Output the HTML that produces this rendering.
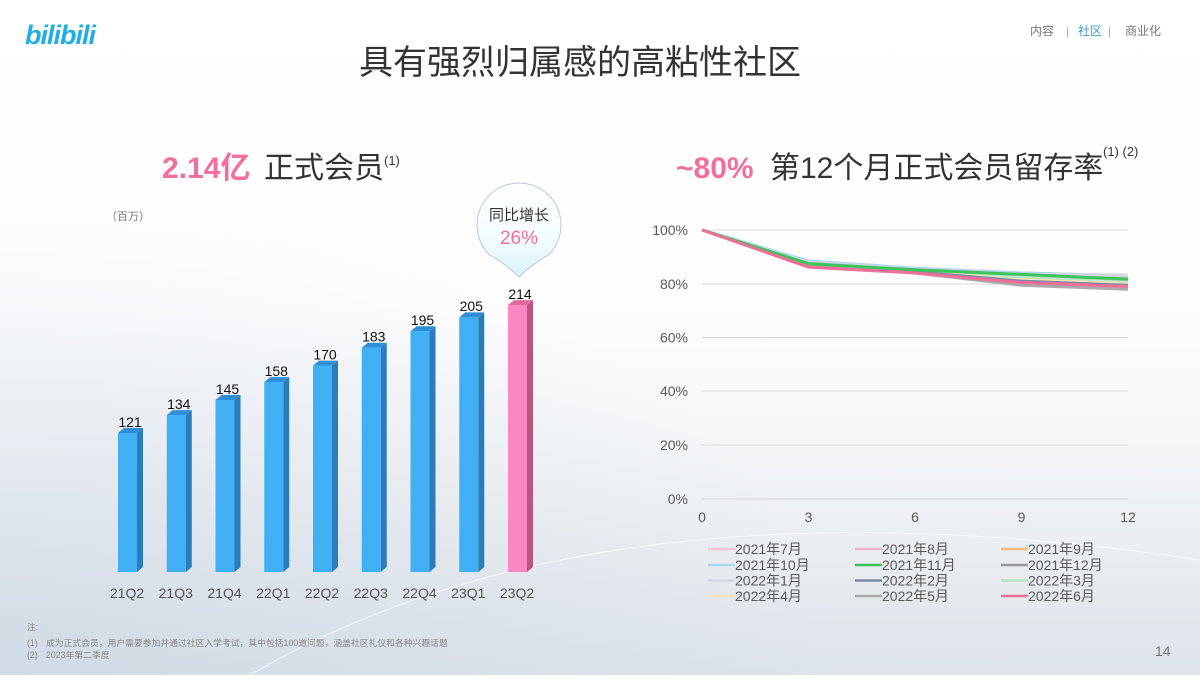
<!DOCTYPE html>
<html><head><meta charset="utf-8">
<style>
html,body{margin:0;padding:0;}
body{width:1200px;height:675px;overflow:hidden;font-family:"Liberation Sans","Noto Sans CJK SC",sans-serif;}
svg text{font-family:"Liberation Sans","Noto Sans CJK SC",sans-serif;}
</style></head>
<body>
<svg width="1200" height="675" viewBox="0 0 1200 675" xmlns="http://www.w3.org/2000/svg">
<defs>
<linearGradient id="bg" x1="0" y1="0" x2="0" y2="1">
<stop offset="0" stop-color="#ffffff"/>
<stop offset="0.45" stop-color="#fdfdfe"/>
<stop offset="0.65" stop-color="#f4f6f8"/>
<stop offset="0.82" stop-color="#eaedf1"/>
<stop offset="1" stop-color="#dde3ea"/>
</linearGradient>
<radialGradient id="bgl" cx="0" cy="1" r="0.7" gradientUnits="objectBoundingBox">
<stop offset="0" stop-color="#c9d5e2" stop-opacity="0.6"/>
<stop offset="1" stop-color="#c9d5e2" stop-opacity="0"/>
</radialGradient>
<linearGradient id="bub" x1="0" y1="0" x2="0" y2="1">
<stop offset="0" stop-color="#ffffff"/>
<stop offset="0.6" stop-color="#f3fbfe"/>
<stop offset="1" stop-color="#d9f3fb"/>
</linearGradient>
</defs>
<rect width="1200" height="675" fill="url(#bg)"/>
<rect width="1200" height="675" fill="url(#bgl)"/>
<path d="M 250 675 Q 600 470 1200 560" fill="none" stroke="#ffffff" stroke-width="1.2" opacity="0.6"/>

<!-- logo -->
<text x="25" y="44" font-size="27" font-weight="bold" fill="#23ade5" font-style="italic" letter-spacing="-1">bilibili</text>

<!-- nav -->
<text x="1030" y="35" font-size="12" fill="#777">内容</text>
<text x="1066" y="35" font-size="11" fill="#aaa">|</text>
<text x="1078" y="35" font-size="12" fill="#3a9fd0">社区</text>
<text x="1108" y="35" font-size="11" fill="#aaa">|</text>
<text x="1125" y="35" font-size="12" fill="#777">商业化</text>

<!-- title -->
<text x="580" y="74" font-size="34" fill="#333" text-anchor="middle">具有强烈归属感的高粘性社区</text>

<!-- left subtitle -->
<text x="162" y="178" font-size="30" font-weight="bold" fill="#f0709b">2.14亿</text>
<text x="264" y="178" font-size="30" fill="#333">正式会员</text>
<text x="384" y="165" font-size="13" fill="#333">(1)</text>

<!-- right subtitle -->
<text x="676" y="178" font-size="30" font-weight="bold" fill="#f0709b">~80%</text>
<text x="770" y="178" font-size="30" fill="#333">第12个月正式会员留存率</text>
<text x="1103" y="156" font-size="13" fill="#333">(1) (2)</text>

<text x="106" y="220" font-size="11" fill="#777">（百万）</text>

<!-- bars -->
<g id="bars">
<polygon points="118,433 124,428 143,428 137,433" fill="#2f8fd6"/>
<polygon points="137,433 143,428 143,567 137,572" fill="#2a7cbc"/>
<rect x="118" y="433" width="19" height="139" fill="#41aff4"/>
<text x="130" y="427" font-size="14" fill="#111" text-anchor="middle">121</text>

<polygon points="166.75,415.1 172.75,410.1 191.75,410.1 185.75,415.1" fill="#2f8fd6"/>
<polygon points="185.75,415.1 191.75,410.1 191.75,567 185.75,572" fill="#2a7cbc"/>
<rect x="166.75" y="415.1" width="19" height="156.9" fill="#41aff4"/>
<text x="178.75" y="409" font-size="14" fill="#111" text-anchor="middle">134</text>

<polygon points="215.5,400 221.5,395 240.5,395 234.5,400" fill="#2f8fd6"/>
<polygon points="234.5,400 240.5,395 240.5,567 234.5,572" fill="#2a7cbc"/>
<rect x="215.5" y="400" width="19" height="172" fill="#41aff4"/>
<text x="227.5" y="394" font-size="14" fill="#111" text-anchor="middle">145</text>

<polygon points="264.25,382.1 270.25,377.1 289.25,377.1 283.25,382.1" fill="#2f8fd6"/>
<polygon points="283.25,382.1 289.25,377.1 289.25,567 283.25,572" fill="#2a7cbc"/>
<rect x="264.25" y="382.1" width="19" height="189.9" fill="#41aff4"/>
<text x="276.25" y="376" font-size="14" fill="#111" text-anchor="middle">158</text>

<polygon points="313,365.6 319,360.6 338,360.6 332,365.6" fill="#2f8fd6"/>
<polygon points="332,365.6 338,360.6 338,567 332,572" fill="#2a7cbc"/>
<rect x="313" y="365.6" width="19" height="206.4" fill="#41aff4"/>
<text x="325" y="359.5" font-size="14" fill="#111" text-anchor="middle">170</text>

<polygon points="361.75,347.7 367.75,342.7 386.75,342.7 380.75,347.7" fill="#2f8fd6"/>
<polygon points="380.75,347.7 386.75,342.7 386.75,567 380.75,572" fill="#2a7cbc"/>
<rect x="361.75" y="347.7" width="19" height="224.3" fill="#41aff4"/>
<text x="373.75" y="341.5" font-size="14" fill="#111" text-anchor="middle">183</text>

<polygon points="410.5,331.2 416.5,326.2 435.5,326.2 429.5,331.2" fill="#2f8fd6"/>
<polygon points="429.5,331.2 435.5,326.2 435.5,567 429.5,572" fill="#2a7cbc"/>
<rect x="410.5" y="331.2" width="19" height="240.8" fill="#41aff4"/>
<text x="422.5" y="325" font-size="14" fill="#111" text-anchor="middle">195</text>

<polygon points="459.25,317.4 465.25,312.4 484.25,312.4 478.25,317.4" fill="#2f8fd6"/>
<polygon points="478.25,317.4 484.25,312.4 484.25,567 478.25,572" fill="#2a7cbc"/>
<rect x="459.25" y="317.4" width="19" height="254.6" fill="#41aff4"/>
<text x="471.25" y="311" font-size="14" fill="#111" text-anchor="middle">205</text>

<polygon points="508,305.1 514,300.1 533,300.1 527,305.1" fill="#e06a9d"/>
<polygon points="527,305.1 533,300.1 533,567 527,572" fill="#b9557f"/>
<rect x="508" y="305.1" width="19" height="266.9" fill="#fb87c0"/>
<text x="520" y="299" font-size="14" fill="#111" text-anchor="middle">214</text>
</g>

<!-- category labels -->
<g font-size="14" fill="#555" text-anchor="middle">
<text x="127" y="598">21Q2</text>
<text x="175.75" y="598">21Q3</text>
<text x="224.5" y="598">21Q4</text>
<text x="273.25" y="598">22Q1</text>
<text x="322" y="598">22Q2</text>
<text x="370.75" y="598">22Q3</text>
<text x="419.5" y="598">22Q4</text>
<text x="468.25" y="598">23Q1</text>
<text x="517" y="598">23Q2</text>
</g>

<!-- bubble -->
<path d="M 519 277 Q 506 264 489.3 254.7 A 42 42 0 1 1 548.7 254.7 Q 532 264 519 277 Z" fill="url(#bub)" stroke="#b8c9dc" stroke-width="1"/>
<text x="519" y="220" font-size="15" fill="#333" text-anchor="middle">同比增长</text>
<text x="519" y="244" font-size="19" fill="#f0709b" text-anchor="middle">26%</text>

<!-- line chart grid -->
<g stroke="#d9d9d9" stroke-width="1">
<line x1="702" y1="230" x2="1128" y2="230"/>
<line x1="702" y1="284" x2="1128" y2="284"/>
<line x1="702" y1="337.5" x2="1128" y2="337.5"/>
<line x1="702" y1="391" x2="1128" y2="391"/>
<line x1="702" y1="445" x2="1128" y2="445"/>
<line x1="702" y1="499" x2="1128" y2="499"/>
</g>
<g font-size="14" fill="#595959" text-anchor="end">
<text x="688" y="235">100%</text>
<text x="688" y="289">80%</text>
<text x="688" y="342.5">60%</text>
<text x="688" y="396">40%</text>
<text x="688" y="450">20%</text>
<text x="688" y="504">0%</text>
</g>
<g font-size="14" fill="#595959" text-anchor="middle">
<text x="702" y="522">0</text>
<text x="808.5" y="522">3</text>
<text x="915" y="522">6</text>
<text x="1021.5" y="522">9</text>
<text x="1128" y="522">12</text>
</g>

<!-- lines -->
<g fill="none" stroke-width="3" stroke-linejoin="round">
<polyline stroke="#f2c4d4" points="702,230 808.5,263.6 915,269 1021.5,274.4 1128,277.1"/>
<polyline stroke="#efb3c8" points="702,230 808.5,263.6 915,268.2 1021.5,273.0 1128,275.7"/>
<polyline stroke="#f5b97a" points="702,230 808.5,265.0 915,270.4 1021.5,275.7 1128,278.4"/>
<polyline stroke="#a9d8f2" points="702,230 808.5,260.9 915,268.2 1021.5,273.0 1128,275.7"/>
<polyline stroke="#d5d7e3" points="702,230 808.5,262.3 915,269 1021.5,274.4 1128,274.9"/>
<polyline stroke="#999999" points="702,230 808.5,265.0 915,270.9 1021.5,277.1 1128,282.5"/>
<polyline stroke="#b5e6c5" points="702,230 808.5,263.6 915,270.4 1021.5,277.1 1128,282.5"/>
<polyline stroke="#f8e6b8" points="702,230 808.5,265.0 915,271.7 1021.5,279.8 1128,283.8"/>
<polyline stroke="#7a8aa0" points="702,230 808.5,265.0 915,271.7 1021.5,281.1 1128,285.2"/>
<polyline stroke="#aaaaaa" points="702,230 808.5,265.5 915,273.0 1021.5,285.2 1128,289.2"/>
<polyline stroke="#3cc45a" points="702,230 808.5,263.6 915,269.8 1021.5,274.4 1128,279.2"/>
<polyline stroke="#ee6f98" points="702,230 808.5,267.1 915,273.0 1021.5,282.5 1128,286.5"/>
</g>

<!-- legend -->
<g font-size="14" fill="#595959">
<line x1="708" y1="549" x2="735" y2="549" stroke="#f2c4d4" stroke-width="2.5"/><text x="735" y="554">2021年7月</text>
<line x1="855" y1="549" x2="882" y2="549" stroke="#efb3c8" stroke-width="2.5"/><text x="882" y="554">2021年8月</text>
<line x1="1001" y1="549" x2="1028" y2="549" stroke="#f5b97a" stroke-width="2.5"/><text x="1028" y="554">2021年9月</text>

<line x1="708" y1="565" x2="735" y2="565" stroke="#a9d8f2" stroke-width="2.5"/><text x="735" y="570">2021年10月</text>
<line x1="855" y1="565" x2="882" y2="565" stroke="#3cc45a" stroke-width="2.5"/><text x="882" y="570">2021年11月</text>
<line x1="1001" y1="565" x2="1028" y2="565" stroke="#999999" stroke-width="2.5"/><text x="1028" y="570">2021年12月</text>

<line x1="708" y1="580.5" x2="735" y2="580.5" stroke="#d5d7e3" stroke-width="2.5"/><text x="735" y="585.5">2022年1月</text>
<line x1="855" y1="580.5" x2="882" y2="580.5" stroke="#7a8aa0" stroke-width="2.5"/><text x="882" y="585.5">2022年2月</text>
<line x1="1001" y1="580.5" x2="1028" y2="580.5" stroke="#b5e6c5" stroke-width="2.5"/><text x="1028" y="585.5">2022年3月</text>

<line x1="708" y1="596" x2="735" y2="596" stroke="#f8e6b8" stroke-width="2.5"/><text x="735" y="601">2022年4月</text>
<line x1="855" y1="596" x2="882" y2="596" stroke="#aaaaaa" stroke-width="2.5"/><text x="882" y="601">2022年5月</text>
<line x1="1001" y1="596" x2="1028" y2="596" stroke="#ee6f98" stroke-width="2.5"/><text x="1028" y="601">2022年6月</text>
</g>

<!-- footnotes -->
<g font-size="8.8" fill="#888">
<text x="27" y="630">注:</text>
<text x="27" y="646">(1)</text>
<text x="46" y="646">成为正式会员，用户需要参加并通过社区入学考试，其中包括100道问题，涵盖社区礼仪和各种兴趣话题</text>
<text x="27" y="658">(2)</text>
<text x="46" y="658">2023年第二季度</text>
</g>

<text x="1155" y="656" font-size="14" fill="#777">14</text>
</svg>
</body></html>
